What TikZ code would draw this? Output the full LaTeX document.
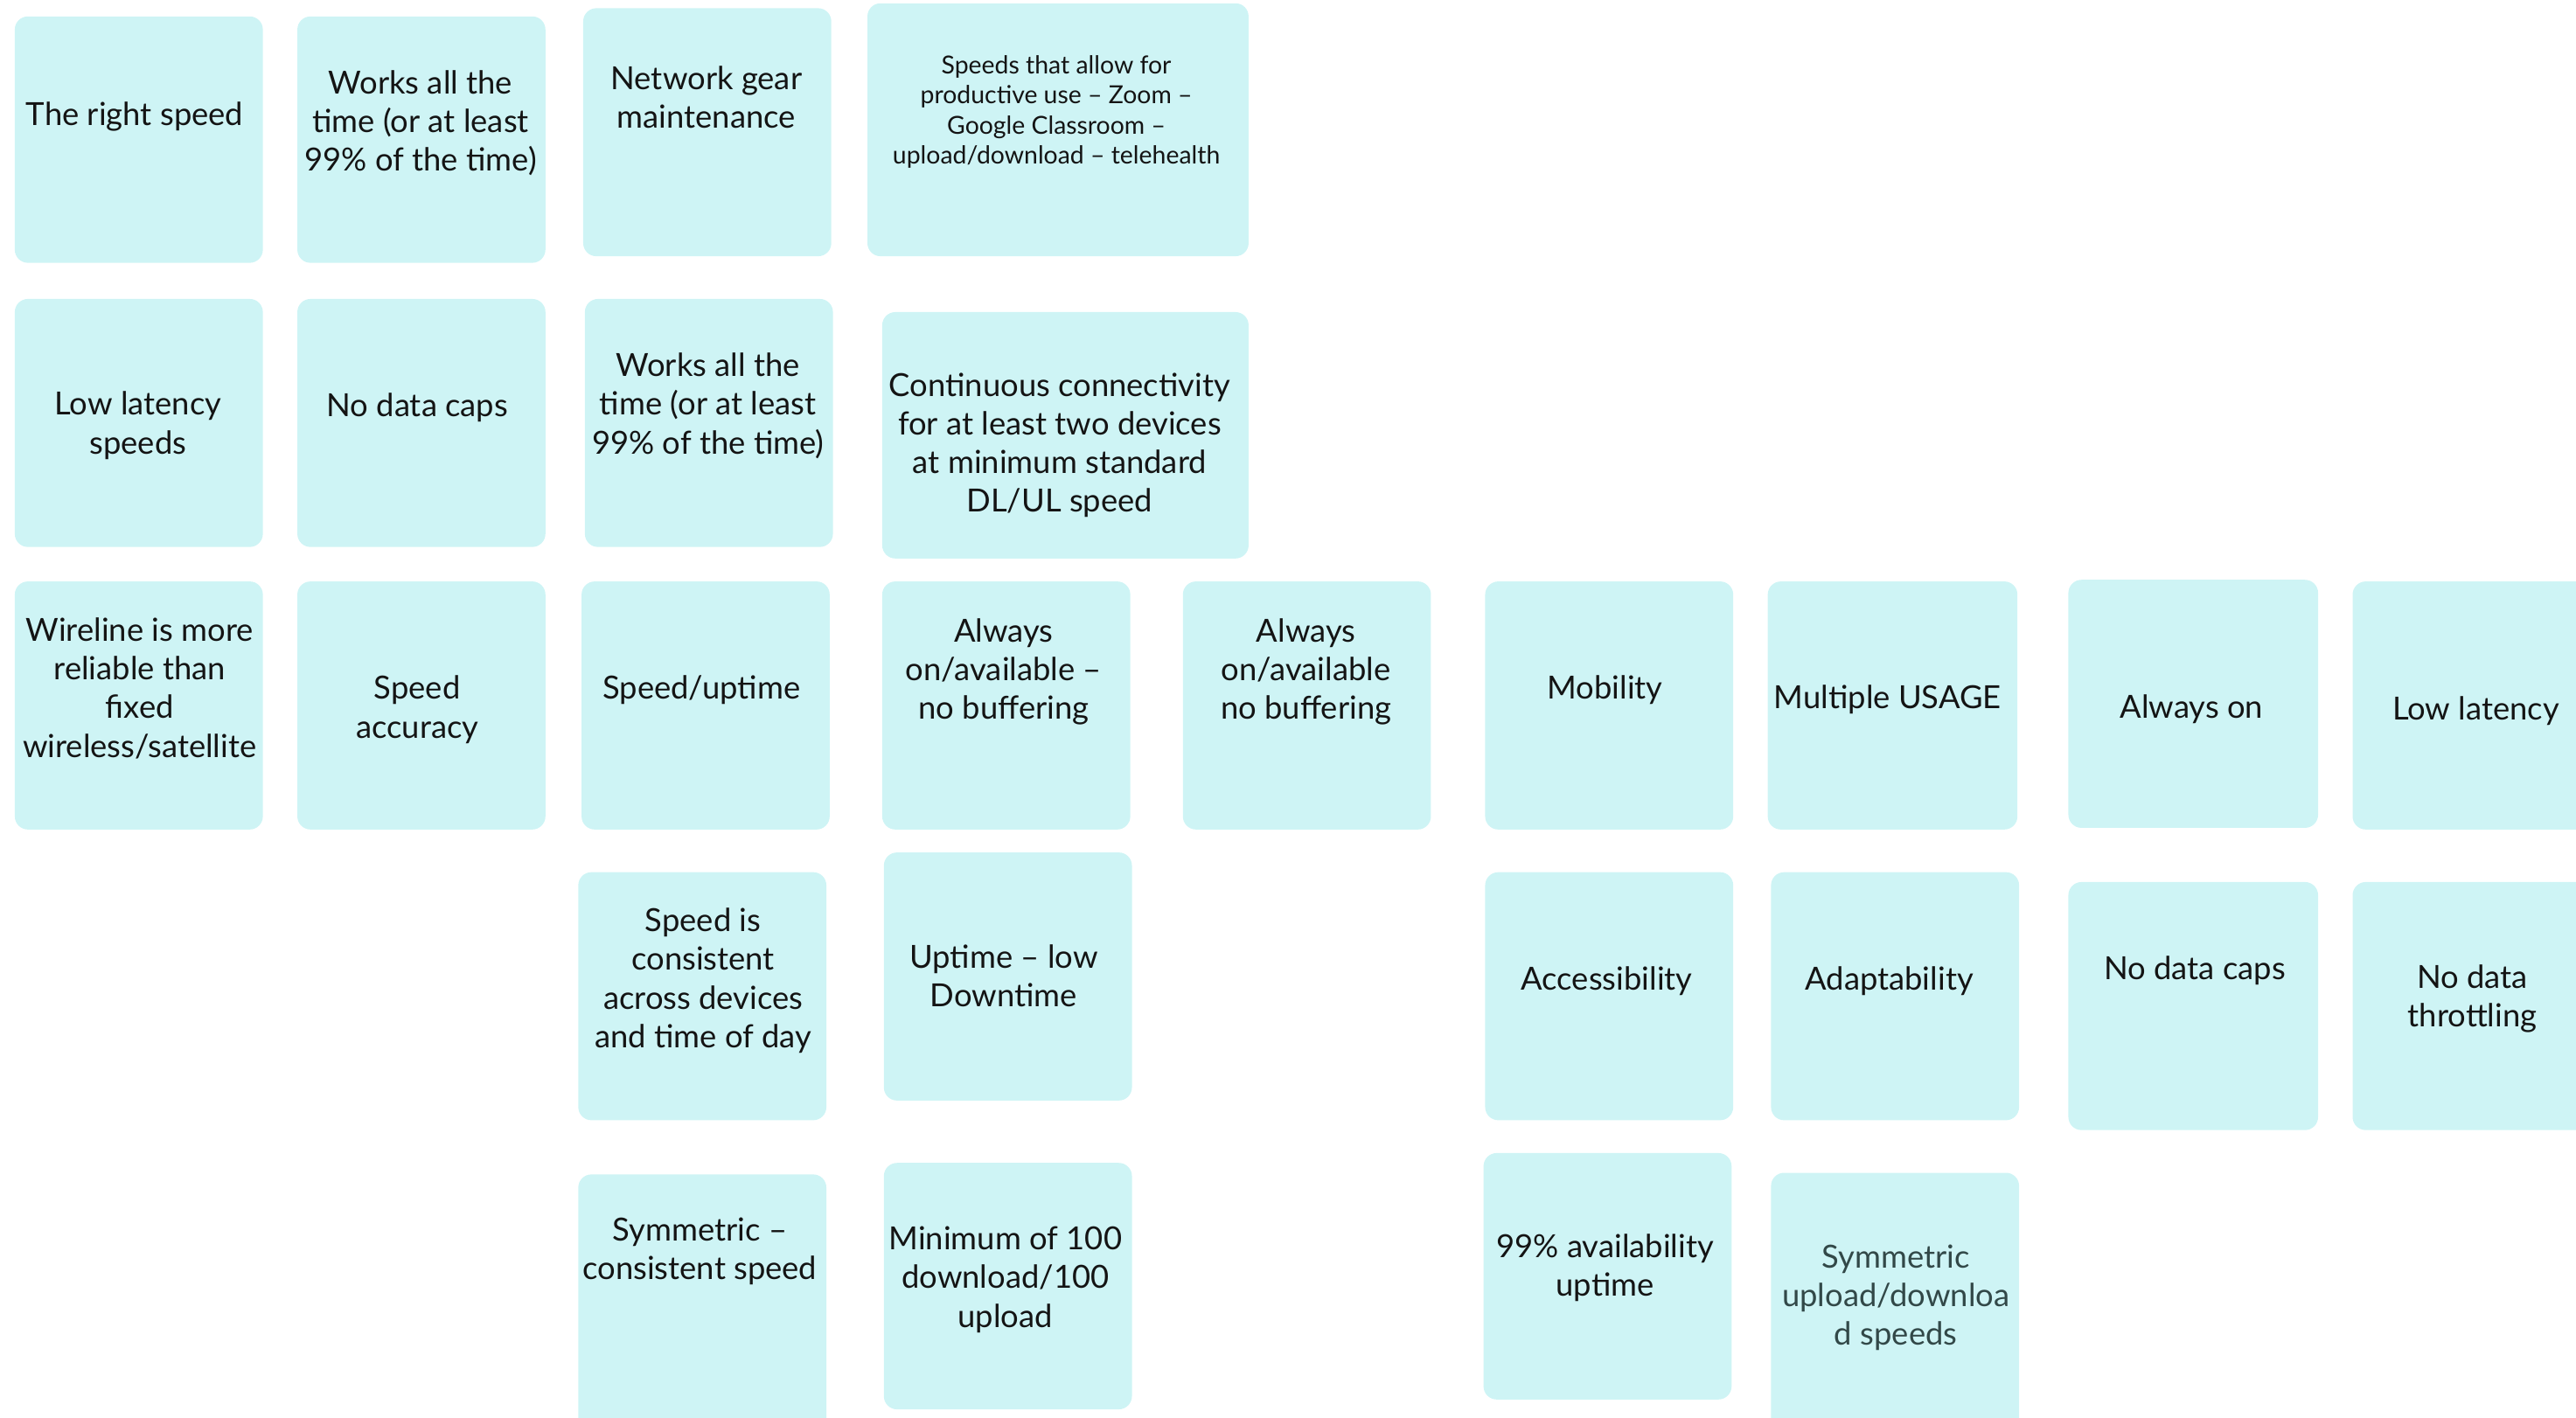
\documentclass[tikz,border=0pt]{standalone}
\usepackage{fontspec}
\setmainfont{Lato}
\definecolor{notefill}{RGB}{206,244,245}
\definecolor{notetext}{RGB}{20,20,20}
\definecolor{graytext}{RGB}{50,72,72}
\tikzset{
  notebox/.style={fill=notefill, draw=none, rounded corners=7.5pt},
  notetxt/.style={align=center, inner sep=0pt, text=notetext,
    font=\fontsize{18.2}{22.1}\selectfont},
  smalltxt/.style={notetxt, font=\fontsize{14.2}{17.2}\selectfont},
}
\begin{document}
\begin{tikzpicture}[x=0.9395pt,y=-0.9395pt]
\useasboundingbox (0,0) rectangle (1568,863);
\clip (0,0) rectangle (1568,863);
% boxes
\path[notebox] (9,10) rectangle (160,160);
\path[notebox] (181,10) rectangle (332,160);
\path[notebox] (355,5) rectangle (506,156);
\path[notebox] (528,2) rectangle (760,156);
\path[notebox] (9,182) rectangle (160,333);
\path[notebox] (181,182) rectangle (332,333);
\path[notebox] (356,182) rectangle (507,333);
\path[notebox] (537,190) rectangle (760,340);
\path[notebox] (9,354) rectangle (160,505);
\path[notebox] (181,354) rectangle (332,505);
\path[notebox] (354,354) rectangle (505,505);
\path[notebox] (537,354) rectangle (688,505);
\path[notebox] (720,354) rectangle (871,505);
\path[notebox] (904,354) rectangle (1055,505);
\path[notebox] (1076,354) rectangle (1228,505);
\path[notebox] (1259,353) rectangle (1411,504);
\path[notebox] (1432,354) rectangle (1590,505);
\path[notebox] (352,531) rectangle (503,682);
\path[notebox] (538,519) rectangle (689,670);
\path[notebox] (904,531) rectangle (1055,682);
\path[notebox] (1078,531) rectangle (1229,682);
\path[notebox] (1259,537) rectangle (1411,688);
\path[notebox] (1432,537) rectangle (1590,688);
\path[notebox] (352,715) rectangle (503,880);
\path[notebox] (538,708) rectangle (689,858);
\path[notebox] (903,702) rectangle (1054,852);
\path[notebox] (1078,714) rectangle (1229,880);
% texts
\begin{scope}[yshift=-1.9pt]
\node[notetxt] (a1) at (82,69) {The right speed};
\node[notetxt] (a2) at (256,73) {Works all the\\time (or at least\\99\% of the time)};
\node[notetxt] (a3) at (430,57) {Network gear\\maintenance};
\node[smalltxt] (a4) at (643,66) {Speeds that allow for\\productive use -- Zoom --\\Google Classroom --\\upload/download -- telehealth};
\node[notetxt] (b1) at (84,257) {Low latency\\speeds};
\node[notetxt] (b2) at (254,246) {No data caps};
\node[notetxt] (b3) at (431,245) {Works all the\\time (or at least\\99\% of the time)};
\node[notetxt] (b4) at (645,269) {Continuous connectivity\\for at least two devices\\at minimum standard\\DL/UL speed};
\node[notetxt] (c1) at (85,417) {Wireline is more\\reliable than\\fixed\\wireless/satellite};
\node[notetxt] (c2) at (254,430) {Speed\\accuracy};
\node[notetxt] (c3) at (427,418) {Speed/uptime};
\node[notetxt] (c4) at (611,407) {Always\\on/available --\\no buffering};
\node[notetxt] (c5) at (795,407) {Always\\on/available\\no buffering};
\node[notetxt] (c6) at (977,418) {Mobility};
\node[notetxt] (c7) at (1149,424) {Multiple USAGE};
\node[notetxt] (c8) at (1334,430) {Always on};
\node[notetxt] (c9) at (1507,431) {Low latency};
\node[notetxt] (d3) at (428,595) {Speed is\\consistent\\across devices\\and time of day};
\node[notetxt] (d4) at (611,592) {Uptime -- low\\Downtime};
\node[notetxt] (d6) at (978,595) {Accessibility};
\node[notetxt] (d7) at (1150,595) {Adaptability};
\node[notetxt] (d8) at (1336,589) {No data caps};
\node[notetxt] (d9) at (1505,606) {No data\\throttling};
\node[notetxt] (e3) at (426,760) {Symmetric --\\consistent speed};
\node[notetxt] (e4) at (612,777) {Minimum of 100\\download/100\\upload};
\node[notetxt] (e6) at (977,770) {99\% availability\\uptime};
\node[notetxt,text=graytext] (e7) at (1154,788) {Symmetric\\upload/downloa\\d speeds};
\end{scope}
\end{tikzpicture}
\end{document}
